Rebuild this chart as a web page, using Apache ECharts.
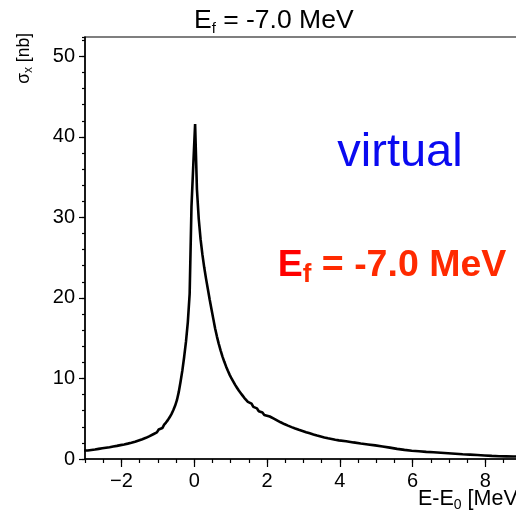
<!DOCTYPE html>
<html>
<head>
<meta charset="utf-8">
<script src="https://cdn.jsdelivr.net/npm/echarts@6/dist/echarts.min.js"></script>
<style>html,body{margin:0;padding:0;background:#fff;}#c{width:516px;height:512px;}</style>
</head>
<body>
<div id="c"></div>
<script>
// Histogram bin left edges (MeV) and cross sections (nb); last entry closes the final bin
const binEdges = [
  -3.025, -2.925, -2.825, -2.725, -2.625, -2.525, -2.425, -2.325, -2.225, -2.125,
  -2.025, -1.925, -1.825, -1.725, -1.625, -1.525, -1.425, -1.325, -1.225, -1.125,
  -1.025, -0.975, -0.925, -0.875, -0.825, -0.775, -0.725, -0.675, -0.625, -0.575,
  -0.525, -0.475, -0.425, -0.375, -0.325, -0.275, -0.225, -0.175, -0.125, -0.075,
  -0.025, 0.025, 0.075, 0.125, 0.175, 0.225, 0.275, 0.325, 0.375, 0.425,
  0.475, 0.525, 0.575, 0.625, 0.675, 0.725, 0.775, 0.825, 0.875, 0.925,
  0.975, 1.025, 1.075, 1.125, 1.175, 1.225, 1.275, 1.325, 1.375, 1.425,
  1.475, 1.525, 1.575, 1.625, 1.675, 1.725, 1.775, 1.825, 1.875, 1.925,
  1.975, 2.075, 2.175, 2.275, 2.375, 2.475, 2.575, 2.675, 2.775, 2.875,
  2.975, 3.075, 3.175, 3.275, 3.375, 3.475, 3.575, 3.675, 3.775, 3.875,
  3.975, 4.175, 4.375, 4.575, 4.775, 4.975, 5.175, 5.375, 5.575, 5.775,
  5.975, 6.175, 6.375, 6.575, 6.775, 6.975, 7.175, 7.375, 7.575, 7.775,
  7.975, 8.175, 8.375, 8.575, 8.775, 8.975, 9.175, 9.375, 9.575];
const sigma = [
  1.06, 1.12, 1.18, 1.26, 1.33, 1.40, 1.47, 1.55, 1.63, 1.72,
  1.81, 1.91, 2.02, 2.14, 2.30, 2.46, 2.63, 2.84, 3.07, 3.30,
  3.50, 3.66, 3.84, 4.05, 4.28, 4.53, 4.83, 5.18, 5.58, 6.05,
  6.60, 7.30, 8.30, 9.60, 11.0, 12.7, 14.6, 17.0, 20.5, 31.3,
  36.5, 41.6, 33.5, 29.8, 27.3, 25.4, 23.8, 22.4, 21.1, 19.8,
  18.6, 17.4, 16.2, 15.2, 14.3, 13.5, 12.75, 12.1, 11.5, 10.95,
  10.45, 10.0, 9.6, 9.2, 8.85, 8.5, 8.2, 7.9, 7.6, 7.35,
  7.1, 6.88, 6.67, 6.47, 6.28, 6.1, 5.93, 5.77, 5.62, 5.47,
  5.28, 5.04, 4.8, 4.56, 4.34, 4.14, 3.96, 3.79, 3.63, 3.48,
  3.33, 3.19, 3.05, 2.92, 2.8, 2.68, 2.57, 2.48, 2.39, 2.31,
  2.2, 2.06, 1.93, 1.81, 1.69, 1.56, 1.41, 1.26, 1.13, 1.03,
  0.96, 0.89, 0.83, 0.77, 0.71, 0.65, 0.59, 0.54, 0.49, 0.44,
  0.39, 0.35, 0.33, 0.31, 0.30, 0.29, 0.28, 0.28, 0.28];
const xRange = [-3, 9.5];
const yRange = [0, 52.4];
const xMajor = 2, xMinor = 0.5, yMajor = 10, yMinor = 2;

const FONT = 'Liberation Sans';
const chart = echarts.init(document.getElementById('c'), null, {renderer: 'canvas'});
const gl = 85, gt = 37, gh = 422;
const pxPerX = 36.4;
const gw = (xRange[1] - xRange[0]) * pxPerX;
const fmtX = v => (v < 0 ? '\u2212' + Math.abs(v) : String(v));

const option = {
  animation: false,
  textStyle: {fontFamily: FONT},
  grid: [
    {left: gl, top: gt, width: gw, height: gh, show: true, borderColor: '#000', borderWidth: 1.2,
      backgroundColor: 'transparent', containLabel: false, outerBoundsMode: 'none'},
    {left: gl + (xMajor - 1) * pxPerX, top: gt, width: gw - (xMajor - 1) * pxPerX, height: gh, show: false,
      containLabel: false, outerBoundsMode: 'none'}
  ],
  xAxis: [
    {type: 'value', gridIndex: 0, min: xRange[0], max: xRange[1], interval: xMinor,
      axisLine: {show: true, onZero: false, lineStyle: {color: '#000', width: 1.5}},
      axisTick: {show: true, length: 4, lineStyle: {color: '#000', width: 1.2}},
      axisLabel: {show: false}, splitLine: {show: false}},
    {type: 'value', gridIndex: 1, min: -2, max: xRange[1], interval: xMajor,
      axisLine: {show: false, onZero: false},
      axisTick: {show: true, length: 8, lineStyle: {color: '#000', width: 1.2}},
      axisLabel: {show: true, color: '#000', fontSize: 20, fontFamily: FONT, margin: 12,
        formatter: v => (Math.abs(v % 2) < 1e-9 ? fmtX(v) : '')},
      splitLine: {show: false}}
  ],
  yAxis: [
    {type: 'value', gridIndex: 0, position: 'left', min: yRange[0], max: yRange[1], interval: yMinor,
      axisLine: {show: true, onZero: false, lineStyle: {color: '#000', width: 1.5}},
      axisTick: {show: true, length: 3, lineStyle: {color: '#000', width: 1.2}},
      axisLabel: {show: false}, splitLine: {show: false}},
    {type: 'value', gridIndex: 0, position: 'left', offset: 0, min: yRange[0], max: yRange[1], interval: yMajor,
      axisLine: {show: false, onZero: false},
      axisTick: {show: true, length: 6, lineStyle: {color: '#000', width: 1.2}},
      axisLabel: {show: true, color: '#000', fontSize: 20, fontFamily: FONT, margin: 10, showMaxLabel: false,
        formatter: v => (Math.abs(v % 10) < 1e-9 ? String(v) : '')},
      splitLine: {show: false}},
    {type: 'value', gridIndex: 1, min: yRange[0], max: yRange[1], show: false}
  ],
  series: [{
    type: 'line', xAxisIndex: 0, yAxisIndex: 0, step: 'end', symbol: 'none',
    lineStyle: {color: '#000', width: 2.6}, clip: true,
    data: binEdges.map((x, i) => [x, sigma[i]])
  }],
  graphic: [
    {type: 'text', x: 194, y: 21, style: {
      text: '{m|E}{s|f}{m| = -7.0 MeV}', align: 'left', verticalAlign: 'middle',
      rich: {m: {fontSize: 26.5, fontFamily: FONT, fill: '#000', lineHeight: 30, verticalAlign: 'middle'},
             s: {fontSize: 15, fontFamily: FONT, fill: '#000', lineHeight: 12, verticalAlign: 'bottom'}}}},
    {type: 'text', x: 24, y: 33, rotation: Math.PI / 2, style: {
      text: '{m|\u03c3}{s|x}{m| [nb]}', align: 'right', verticalAlign: 'middle',
      rich: {m: {fontSize: 17.5, fontFamily: FONT, fill: '#000', lineHeight: 22, verticalAlign: 'middle'},
             s: {fontSize: 12, fontFamily: FONT, fill: '#000', lineHeight: 10, verticalAlign: 'bottom'}}}},
    {type: 'text', x: 418, y: 499, style: {
      text: '{m|E-E}{s|0}{m| [MeV]}', align: 'left', verticalAlign: 'middle',
      rich: {m: {fontSize: 21.5, fontFamily: FONT, fill: '#000', lineHeight: 26, verticalAlign: 'middle'},
             s: {fontSize: 14, fontFamily: FONT, fill: '#000', lineHeight: 10, verticalAlign: 'bottom'}}}},
    {type: 'text', x: 400, y: 153, style: {
      text: 'virtual', align: 'center', verticalAlign: 'middle',
      fontSize: 47, fontFamily: FONT, fill: '#0a0af0'}},
    {type: 'text', x: 392, y: 266, style: {
      text: '{e|E}{s|f}{m| = -7.0 MeV}', align: 'center', verticalAlign: 'middle',
      rich: {e: {fontSize: 37.5, fontWeight: 'bold', fontFamily: FONT, fill: '#ff0000', lineHeight: 44, verticalAlign: 'middle'},
             m: {fontSize: 37.5, fontWeight: 'bold', fontFamily: FONT, fill: '#ff2a00', lineHeight: 44, verticalAlign: 'middle'},
             s: {fontSize: 26, fontWeight: 'bold', fontFamily: FONT, fill: '#ff2a00', lineHeight: 20, verticalAlign: 'bottom'}}}}
  ]
};
chart.setOption(option);
</script>
</body>
</html>
